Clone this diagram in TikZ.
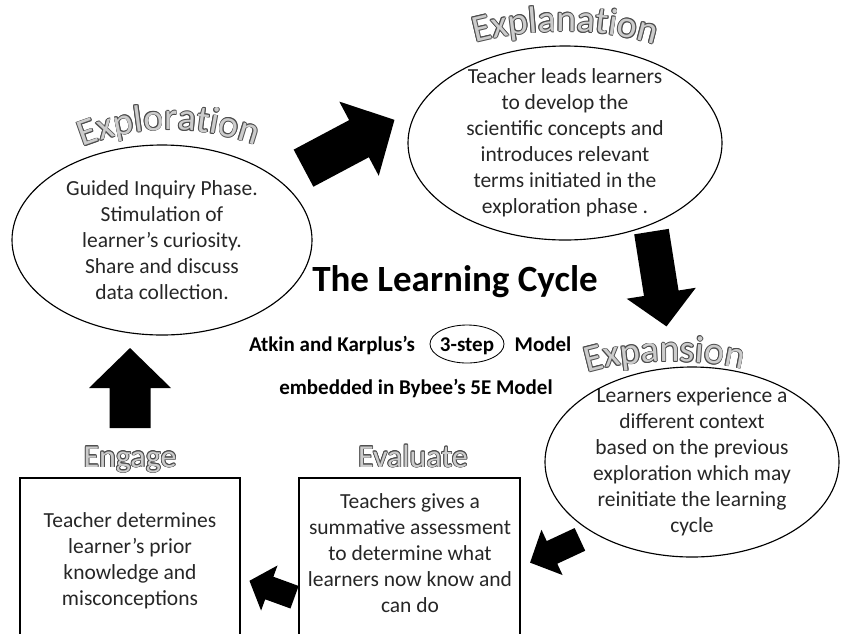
\documentclass[tikz,border=0pt]{standalone}
\usepackage{fontspec}
\setmainfont{Carlito}
\usepackage{contour}
\usetikzlibrary{decorations.text}

\contourlength{0.8pt}
\contournumber{12}
\newcommand\wafont{\fontsize{38}{44}\selectfont}
% outlined text on a curve: dark copies around, light copy on top
\newcommand\archlabel[2]{%
  \foreach \a in {0,45,...,315}
    \path[shift={(\a:0.8)}, decorate, decoration={text along path, text align=center, text={|\wafont\color{black!70}|#2}}] #1;
  \path[decorate, decoration={text along path, text align=center, text={|\wafont\color{black!20}|#2}}] #1;
}

\begin{document}
\begin{tikzpicture}[x=1pt,y=-1pt,
    outline/.style={line width=0.4mm},
    body/.style={font=\fontsize{21.5}{26}\selectfont, text=black!85, align=center, inner sep=0pt},
    head/.style={font=\fontsize{21}{25}\selectfont\bfseries, inner sep=0pt, anchor=base},
    phase/.style={font=\fontsize{32}{36}\selectfont, text=black!20, inner sep=0pt, anchor=base},
    pics/bigarrow/.style={code={
        \fill (-0.5,-0.25) -- (#1,-0.25) -- (#1,-0.5) -- (0.5,0) -- (#1,0.5) -- (#1,0.25) -- (-0.5,0.25) -- cycle;}}]

    \useasboundingbox (0,0) rectangle (842,633);

    % the three phases of the cycle
    \node[body] (explore) at (162,240) {Guided Inquiry Phase.\\ Stimulation of\\ learner’s curiosity.\\ Share and discuss\\ data collection.};
    \draw[outline] (explore.center) ellipse [x radius=150, y radius=95];
    \archlabel{(80,148) .. controls (140,124) and (195,124) .. (258,146)}{Exploration}

    \node[body] (explain) at (565,143) {Teacher leads learners\\ to develop the\\ scientific concepts and\\ introduces relevant\\ terms initiated in the\\ exploration phase .};
    \draw[outline] (explain.center) ellipse [x radius=157, y radius=97];
    \archlabel{(470,44) .. controls (530,27) and (600,27) .. (660,46)}{Explanation}

    \node[body] (expand) at (692,462) {Learners experience a\\ different context\\ based on the previous\\ exploration which may\\ reinitiate the learning\\ cycle};
    \draw[outline] (expand.center) ellipse [x radius=147, y radius=95];
    \archlabel{(580,375) .. controls (625,359) and (700,357) .. (750,371)}{Expansion}

    % boxes run off the bottom edge
    \node[body] (engage) at (130,561) {Teacher determines\\ learner’s prior\\ knowledge and\\ misconceptions};
    \draw[outline] (20,640) -- (20,478) -- (240,478) -- (240,640);
    \node[phase] (engagelbl) at (130,467) {\contour{black!70}{Engage}};

    \node[body] (evaluate) at (410,553) {Teachers gives a\\ summative assessment\\ to determine what\\ learners now know and\\ can do};
    \draw[outline] (299,640) -- (299,478) -- (520,478) -- (520,640);
    \node[phase] (evaluatelbl) at (413,467) {\contour{black!70}{Evaluate}};

    % middle
    \node[font=\fontsize{37}{44}\selectfont\bfseries, inner sep=0pt, anchor=base] (title) at (455,291) {The Learning Cycle};
    \node[head] (atkin) at (332,351) {Atkin and Karplus’s};
    \node[head] (steps) at (467,351) {3-step};
    \draw[line width=0.3mm] (467,344) ellipse [x radius=37, y radius=19];
    \node[head] (model) at (543,351) {Model};
    \node[head] (bybee) at (416,394) {embedded in Bybee’s 5E Model};

    % block arrows
    \pic[rotate=28, xscale=103, yscale=84] at (349,144) {bigarrow=0.11};
    \pic[rotate=-81, xscale=96, yscale=70] at (659,279) {bigarrow=0.15};
    \pic[rotate=205, xscale=55, yscale=50] at (555,551) {bigarrow=0.06};
    \pic[rotate=160, xscale=48, yscale=48] at (272,589) {bigarrow=0.06};
    \pic[rotate=90, xscale=80, yscale=82] at (130,388) {bigarrow=0.0};

\end{tikzpicture}
\end{document}
